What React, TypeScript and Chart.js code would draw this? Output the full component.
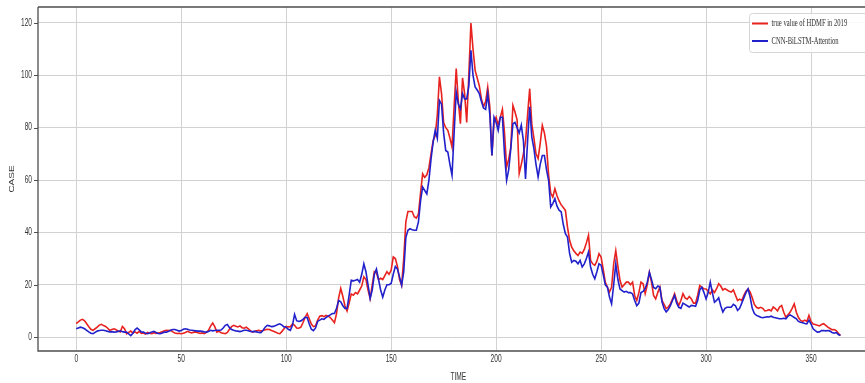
import React, { useEffect, useRef } from "react";
import { Chart, registerables } from "chart.js";

Chart.register(...registerables);

// ---- data ----
const xTickValues = [0, 50, 100, 150, 200, 250, 300, 350];
const yTickValues = [0, 20, 40, 60, 80, 100, 120];
const xTitle = "TIME";
const yTitle = "CASE";
const seriesLabels = ["true value of HDMF in 2019", "CNN-BiLSTM-Attention"];

const trueValues = [
  5.2, 5.8, 6.5, 6.8, 6.2, 5.1, 4.0, 3.0, 2.6, 3.2,
  3.8, 4.6, 4.9, 4.4, 4.1, 3.4, 2.6, 2.9, 3.2, 2.8,
  2.3, 2.0, 4.1, 3.2, 1.3, 1.8, 2.3, 1.6, 2.0, 1.5,
  2.2, 1.4, 1.6, 1.2, 1.8, 1.5, 1.3, 1.7, 1.4, 1.6,
  1.8, 2.1, 2.4, 2.6, 2.5, 2.6, 2.0, 1.6, 1.4, 1.5,
  1.3, 1.5, 1.8, 2.2, 1.9, 1.6, 1.9, 2.0, 1.7, 1.4,
  1.6, 1.3, 1.8, 2.6, 4.2, 5.4, 4.0, 1.9, 2.2, 1.7,
  1.5, 1.3, 1.8, 3.0, 4.0, 4.5, 4.2, 3.9, 4.3, 3.6,
  3.4, 3.8, 3.2, 2.4, 1.9, 2.2, 2.4, 2.6, 2.3, 2.5,
  2.8, 3.0, 2.9, 2.5, 2.2, 1.9, 1.5, 1.3, 2.2, 3.2,
  4.1, 3.9, 4.0, 5.1, 4.5, 3.5, 3.4, 3.8, 5.5, 7.5,
  9.0, 7.0, 5.0, 4.0, 4.3, 6.5, 8.0, 8.2, 7.8, 8.3,
  8.0, 7.5, 6.5, 5.5, 9.0, 15.0, 18.6, 15.5, 12.0, 10.0,
  13.0, 16.5, 16.0, 17.0, 16.5, 18.0, 19.5, 23.0, 22.0, 18.0,
  14.8, 20.0, 25.0, 24.5, 22.0, 22.5, 22.0, 23.5, 25.0, 24.0,
  25.5, 30.6, 30.0, 27.0, 22.0, 19.8, 30.0, 44.0, 48.0, 48.0,
  48.0, 46.0, 45.5, 47.0, 55.0, 62.4, 61.0, 62.0, 64.7, 70.0,
  75.0, 77.0, 85.0, 99.4, 93.0, 82.0, 80.0, 79.0, 76.0, 72.6,
  88.0, 102.6, 90.0, 81.5, 99.0, 93.0, 82.0, 100.0, 120.0, 110.0,
  101.9, 99.0, 96.0, 91.0, 88.0, 90.0, 95.5, 88.0, 69.4, 82.0,
  84.0, 81.0, 84.0, 87.0, 78.0, 65.0, 68.0, 72.6, 88.5, 86.0,
  83.0, 62.5, 66.0, 70.0, 74.6, 85.0, 94.9, 81.4, 76.0, 70.0,
  68.2, 74.0, 80.9, 78.0, 73.0, 62.0, 55.0, 53.5, 56.7, 54.0,
  52.0, 50.5, 49.5, 48.4, 42.0, 37.0, 34.4, 33.0, 32.0, 31.2,
  32.5, 32.0, 33.5, 36.0, 38.9, 29.3, 28.0, 27.4, 29.0, 31.9,
  30.6, 26.0, 21.0, 19.1, 17.2, 19.0, 28.0, 33.0, 27.0, 21.7,
  19.1, 20.0, 21.0, 21.0, 20.0, 21.0, 15.9, 14.0, 17.0, 21.0,
  20.4, 16.6, 20.0, 24.8, 21.0, 15.9, 14.6, 17.0, 19.1, 14.0,
  12.5, 10.9, 11.5, 12.7, 14.5, 16.6, 14.0, 12.1, 14.0, 16.6,
  15.0, 14.5, 15.5, 14.6, 13.0, 13.0, 16.0, 19.7, 19.0, 18.5,
  18.4, 17.5, 16.5, 18.0, 17.0, 18.5, 20.4, 19.5, 18.0, 18.5,
  18.0, 17.5, 17.2, 18.0, 16.0, 14.0, 14.5, 14.0, 16.0, 17.5,
  18.4, 17.2, 15.0, 12.5, 11.4, 11.0, 11.4, 11.0, 10.0, 10.2,
  10.5, 10.0, 11.5, 10.9, 10.0, 11.5, 12.1, 9.5, 7.6, 8.5,
  9.5, 11.0, 12.7, 9.5, 7.5, 6.4, 6.0, 6.5, 6.0, 8.3,
  6.0, 5.0, 4.8, 4.5, 4.3, 4.8, 5.1, 4.5, 3.8, 3.3,
  2.8, 2.9, 2.5, 1.5, 0.6,
];

const predictedValues = [
  3.2, 3.5, 3.8, 3.6, 3.2, 2.6, 2.0, 1.5, 1.3, 1.8,
  2.3, 2.5, 2.6, 2.6, 2.4, 2.2, 2.0, 2.1, 1.9, 2.0,
  2.2, 2.4, 2.1, 1.9, 1.9, 1.2, 0.6, 1.5, 2.8, 3.5,
  2.8, 2.0, 1.9, 1.5, 1.3, 1.6, 2.0, 2.2, 1.8, 1.4,
  1.3, 1.6, 1.9, 1.9, 2.2, 2.6, 2.9, 2.9, 2.6, 2.3,
  2.5, 3.0, 3.2, 3.0, 2.7, 2.6, 2.5, 2.4, 2.3, 2.3,
  2.2, 2.0, 1.9, 2.1, 2.6, 2.4, 2.5, 2.6, 2.6, 2.7,
  3.5, 4.5, 4.8, 3.6, 2.9, 2.6, 2.4, 2.3, 2.1, 2.3,
  2.6, 2.6, 2.4, 2.2, 2.1, 2.2, 2.0, 1.8, 1.7, 2.6,
  3.8, 4.5, 4.3, 4.0, 4.1, 4.4, 4.8, 5.1, 4.6, 3.9,
  3.8, 3.0, 2.6, 4.5, 8.7, 6.3, 6.0, 6.2, 6.8, 7.6,
  7.5, 5.0, 3.0, 2.5, 3.5, 6.0, 6.5, 7.0, 6.8, 7.5,
  8.0, 8.5, 9.0, 9.0, 11.0, 14.0, 13.5, 12.0, 11.0, 11.0,
  16.0, 21.7, 21.5, 21.7, 22.0, 21.0, 24.0, 28.0, 25.0, 20.0,
  14.8, 18.0, 24.0, 26.0, 22.0, 18.0, 15.3, 18.0, 20.0, 20.0,
  20.5, 24.0, 27.0, 26.0, 23.0, 19.8, 25.0, 38.0, 40.8, 41.4,
  41.0, 40.8, 40.8, 44.0, 52.0, 57.3, 56.0, 54.7, 60.0, 68.0,
  74.5, 79.0, 75.9, 90.4, 89.0, 78.0, 71.3, 70.7, 66.0, 61.8,
  78.0, 93.6, 89.0, 87.2, 93.0, 91.0, 91.0, 96.0, 109.6, 100.0,
  95.6, 94.4, 93.0, 90.0, 87.5, 87.0, 93.0, 85.0, 69.4, 84.0,
  82.0, 79.0, 84.0, 84.0, 70.0, 59.9, 64.0, 72.0, 81.5, 82.0,
  80.0, 78.0, 81.0, 75.0, 60.4, 75.0, 88.0, 76.4, 72.0, 66.0,
  61.2, 66.0, 69.4, 69.4, 64.0, 59.9, 49.7, 51.0, 52.9, 50.0,
  48.5, 47.8, 43.0, 39.5, 38.2, 32.0, 28.6, 29.3, 29.0, 28.0,
  29.3, 26.8, 28.0, 30.0, 32.5, 26.8, 24.0, 22.3, 25.0, 28.0,
  27.5, 24.0, 20.0, 19.1, 15.3, 12.7, 20.0, 28.0, 22.0, 18.4,
  17.8, 17.2, 17.5, 17.0, 17.0, 16.5, 14.0, 12.0, 13.0, 17.0,
  17.5, 18.5, 21.0, 24.8, 22.0, 19.0, 18.5, 19.5, 19.1, 13.5,
  11.0, 9.6, 10.5, 12.0, 14.0, 15.9, 13.0, 11.4, 11.0, 13.0,
  12.5, 12.0, 11.5, 12.1, 12.0, 11.8, 14.0, 18.0, 19.1, 17.0,
  14.6, 17.0, 21.0, 17.0, 13.3, 14.0, 15.0, 12.0, 9.6, 11.0,
  11.4, 11.4, 11.4, 12.5, 12.0, 10.2, 11.0, 13.0, 15.0, 17.0,
  18.4, 15.3, 11.0, 9.0, 8.3, 8.0, 7.6, 7.4, 7.6, 7.8,
  7.7, 8.0, 7.6, 7.4, 7.2, 7.0, 7.0, 7.2, 7.0, 8.0,
  8.5, 8.0, 7.5, 7.0, 6.0, 5.7, 5.5, 5.2, 5.1, 6.5,
  5.0, 3.2, 2.5, 1.9, 2.0, 2.5, 2.5, 2.4, 2.5, 2.3,
  1.8, 1.5, 1.8, 1.0, 0.6,
];

// ---- layout constants ----
const W = 865;
const H = 383;
const AREA_LEFT = 38;
const AREA_TOP = 7;
const AREA_BOTTOM = 351;
const X_MIN = -18.2;
const X_MAX = 375.7;
const X_FULL_MAX = 382.2;
const Y_MIN = -5.3;
const Y_MAX = 126.1;
const SQUEEZE = 0.66;

const RED = "#e8221f";
const BLUE = "#2121cc";

function squeezedText(
  ctx: CanvasRenderingContext2D,
  text: string,
  x: number,
  y: number,
  align: CanvasTextAlign,
  baseline: CanvasTextBaseline,
  rotate = 0
) {
  ctx.save();
  ctx.translate(x, y);
  if (rotate) {
    ctx.rotate(rotate);
    ctx.scale(1, SQUEEZE);
  } else {
    ctx.scale(SQUEEZE, 1);
  }
  ctx.textAlign = align;
  ctx.textBaseline = baseline;
  ctx.fillText(text, 0, 0);
  ctx.restore();
}

const decorPlugin = {
  id: "decor",
  afterDraw(chart: any) {
    const ctx: CanvasRenderingContext2D = chart.ctx;
    const ca = chart.chartArea;
    const xs = chart.scales.x;
    const ys = chart.scales.y;
    ctx.save();

    // frame
    ctx.strokeStyle = "#4d4d4d";
    ctx.lineWidth = 1.3;
    ctx.beginPath();
    ctx.moveTo(ca.left, ca.top);
    ctx.lineTo(ca.right + 20, ca.top);
    ctx.moveTo(ca.left, ca.top);
    ctx.lineTo(ca.left, ca.bottom);
    ctx.lineTo(ca.right + 20, ca.bottom);
    ctx.stroke();

    // y tick marks
    ctx.lineWidth = 1;
    ctx.beginPath();
    for (const v of yTickValues) {
      const py = Math.round(ys.getPixelForValue(v)) + 0.5;
      ctx.moveTo(ca.left - 4, py);
      ctx.lineTo(ca.left, py);
    }
    ctx.stroke();

    // tick labels
    ctx.fillStyle = "#333333";
    ctx.font = '10px "Liberation Sans", Arial, sans-serif';
    for (const v of yTickValues) {
      squeezedText(ctx, String(v), ca.left - 6, ys.getPixelForValue(v), "right", "middle");
    }
    for (const v of xTickValues) {
      squeezedText(ctx, String(v), xs.getPixelForValue(v), ca.bottom + 3, "center", "top");
    }

    // axis titles
    const fullRight = xs.getPixelForValue(X_FULL_MAX);
    squeezedText(ctx, xTitle, (ca.left + fullRight) / 2, 372, "center", "top");
    squeezedText(ctx, yTitle, 12, (ca.top + ca.bottom) / 2, "center", "middle", -Math.PI / 2);

    // legend
    const bx = 749.5;
    const by = 13.5;
    const bw = 130;
    const bh = 39;
    ctx.fillStyle = "rgba(255,255,255,0.85)";
    ctx.strokeStyle = "#d6d6d6";
    ctx.lineWidth = 1;
    ctx.beginPath();
    (ctx as any).roundRect ? (ctx as any).roundRect(bx, by, bw, bh, 3) : ctx.rect(bx, by, bw, bh);
    ctx.fill();
    ctx.stroke();

    const colors = [RED, BLUE];
    const rows = [23.5, 41];
    ctx.font = '10px "Liberation Serif", "Times New Roman", serif';
    for (let i = 0; i < seriesLabels.length; i++) {
      ctx.strokeStyle = colors[i];
      ctx.lineWidth = 2;
      ctx.beginPath();
      ctx.moveTo(752, rows[i]);
      ctx.lineTo(768, rows[i]);
      ctx.stroke();
      ctx.fillStyle = "#333333";
      squeezedText(ctx, seriesLabels[i], 771.5, rows[i], "left", "middle");
    }
    ctx.restore();
  },
};

export default function App() {
  const canvasRef = useRef<HTMLCanvasElement | null>(null);

  useEffect(() => {
    const canvas = canvasRef.current;
    if (!canvas) return;
    const chart = new Chart(canvas, {
      type: "line",
      data: {
        datasets: [
          {
            label: seriesLabels[0],
            data: trueValues.map((v, i) => ({ x: i, y: v })),
            borderColor: RED,
            borderWidth: 1.6,
            pointRadius: 0,
            tension: 0,
            order: 2,
          },
          {
            label: seriesLabels[1],
            data: predictedValues.map((v, i) => ({ x: i, y: v })),
            borderColor: BLUE,
            borderWidth: 1.6,
            pointRadius: 0,
            tension: 0,
            order: 1,
          },
        ],
      },
      options: {
        responsive: false,
        animation: false,
        devicePixelRatio: 1,
        layout: { padding: { top: AREA_TOP, left: 0, right: 0, bottom: 0 } },
        plugins: {
          legend: { display: false },
          tooltip: { enabled: false },
        },
        scales: {
          x: {
            type: "linear",
            min: X_MIN,
            max: X_MAX,
            afterBuildTicks: (scale: any) => {
              scale.ticks = xTickValues.map((v) => ({ value: v }));
            },
            afterFit: (scale: any) => {
              scale.height = H - AREA_BOTTOM;
            },
            grid: { color: "#d2d2d2", lineWidth: 1, drawTicks: false },
            border: { display: false },
            ticks: { display: false },
          },
          y: {
            type: "linear",
            min: Y_MIN,
            max: Y_MAX,
            afterBuildTicks: (scale: any) => {
              scale.ticks = yTickValues.map((v) => ({ value: v }));
            },
            afterFit: (scale: any) => {
              scale.width = AREA_LEFT;
            },
            grid: { color: "#d2d2d2", lineWidth: 1, drawTicks: false },
            border: { display: false },
            ticks: { display: false },
          },
        },
      },
      plugins: [decorPlugin],
    } as any);
    return () => chart.destroy();
  }, []);

  return (
    <canvas
      ref={canvasRef}
      width={W}
      height={H}
      style={{ position: "absolute", left: 0, top: 0, width: W, height: H, background: "#ffffff" }}
    />
  );
}
